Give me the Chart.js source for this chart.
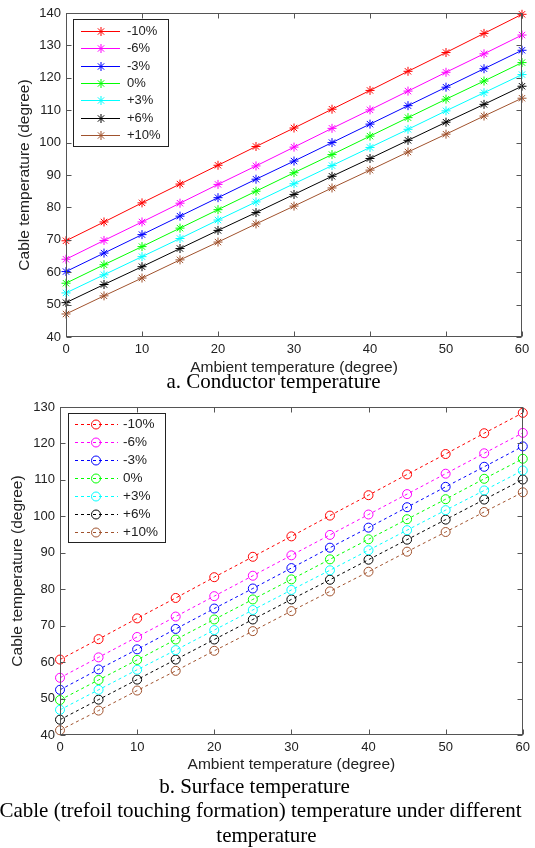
<!DOCTYPE html>
<html>
<head>
<meta charset="utf-8">
<title>Cable temperature</title>
<script src="https://cdn.jsdelivr.net/npm/chart.js@4.4.0/dist/chart.umd.min.js"></script>
<style>
  body { margin: 0; background: #fff; width: 535px; height: 848px; position: relative; overflow: hidden; }
  canvas { position: absolute; left: 0; }
  .cap {
    position: absolute; width: 535px; text-align: center; white-space: nowrap;
    font-family: "Liberation Serif", "Times New Roman", serif; font-size: 21px; line-height: 24px; color: #000;
  }
</style>
</head>
<body>
<canvas id="condChart" width="535" height="380" style="top:0"></canvas>
<div class="cap" style="top:369px; left:6px">a. Conductor temperature</div>
<canvas id="surfChart" width="535" height="381" style="top:394px"></canvas>
<div class="cap" style="top:774px; left:-13px">b. Surface temperature</div>
<div class="cap" style="top:798px; left:-7px">Cable (trefoil touching formation) temperature under different</div>
<div class="cap" style="top:823px; left:-1px">temperature</div>

<script>
// ambient temperature (x axis)
const ambient = [0, 5, 10, 15, 20, 25, 30, 35, 40, 45, 50, 55, 60];
const seriesNames = ['-10%', '-6%', '-3%', '0%', '+3%', '+6%', '+10%'];
const seriesColors = ['#ff0000', '#ff00ff', '#0000ff', '#00ff00', '#00ffff', '#000000', '#a0522d'];

// a. conductor temperature
const condM10 = [69.7, 75.5, 81.4, 87.2, 93.0, 98.8, 104.5, 110.3, 116.1, 122.0, 127.8, 133.7, 139.6];
const condM6  = [64.0, 69.8, 75.5, 81.3, 87.1, 92.8, 98.6, 104.4, 110.1, 115.9, 121.7, 127.4, 133.2];
const condM3  = [60.2, 65.9, 71.6, 77.3, 83.0, 88.7, 94.3, 100.0, 105.7, 111.4, 117.1, 122.8, 128.5];
const cond0   = [56.6, 62.3, 67.9, 73.6, 79.3, 85.0, 90.7, 96.3, 102.0, 107.7, 113.4, 119.0, 124.7];
const condP3  = [53.6, 59.2, 64.8, 70.4, 76.1, 81.7, 87.3, 92.9, 98.5, 104.1, 109.8, 115.4, 121.0];
const condP6  = [50.6, 56.2, 61.7, 67.3, 72.9, 78.4, 84.0, 89.6, 95.1, 100.7, 106.3, 111.8, 117.4];
const condP10 = [47.1, 52.7, 58.2, 63.8, 69.3, 74.9, 80.4, 86.0, 91.5, 97.1, 102.6, 108.2, 113.7];

// b. surface temperature
const surfM10 = [60.7, 66.3, 72.0, 77.6, 83.3, 88.9, 94.5, 100.2, 105.8, 111.5, 117.1, 122.8, 128.4];
const surfM6  = [55.7, 61.3, 66.9, 72.5, 78.1, 83.7, 89.3, 94.9, 100.5, 106.1, 111.7, 117.3, 122.9];
const surfM3  = [52.4, 58.0, 63.5, 69.1, 74.7, 80.2, 85.8, 91.4, 96.9, 102.5, 108.1, 113.6, 119.2];
const surf0   = [49.6, 55.1, 60.6, 66.2, 71.7, 77.2, 82.7, 88.2, 93.7, 99.2, 104.7, 110.3, 115.8];
const surfP3  = [46.9, 52.4, 57.9, 63.3, 68.8, 74.3, 79.8, 85.2, 90.7, 96.2, 101.7, 107.1, 112.6];
const surfP6  = [44.2, 49.7, 55.2, 60.7, 66.2, 71.7, 77.2, 82.6, 88.1, 93.6, 99.1, 104.6, 110.1];
const surfP10 = [41.3, 46.7, 52.2, 57.6, 63.1, 68.5, 74.0, 79.4, 84.8, 90.3, 95.7, 101.2, 106.6];

const condSeries = [condM10, condM6, condM3, cond0, condP3, condP6, condP10];
const surfSeries = [surfM10, surfM6, surfM3, surf0, surfP3, surfP6, surfP10];

const axisColor = '#555';
const textColor = '#222';
const sans = '"Liberation Sans", Arial, sans-serif';

// matlab style box: frame + inward ticks on all four sides, plus the legend box
const boxPlugin = {
  id: 'boxAxes',
  afterDraw(chart, args, opts) {
    const { ctx, chartArea: a, scales } = chart;
    const L = Math.round(a.left) + 0.5, R = Math.round(a.right) - 0.5;
    const T = Math.round(a.top) + 0.5, B = Math.round(a.bottom) - 0.5;
    ctx.save();
    ctx.strokeStyle = axisColor;
    ctx.lineWidth = 1;
    ctx.strokeRect(L, T, R - L, B - T);
    ctx.beginPath();
    scales.x.ticks.forEach(t => {
      const px = Math.round(scales.x.getPixelForValue(t.value)) + 0.5;
      ctx.moveTo(px, B); ctx.lineTo(px, B - 5);
      ctx.moveTo(px, T); ctx.lineTo(px, T + 5);
    });
    scales.y.ticks.forEach(t => {
      const py = Math.round(scales.y.getPixelForValue(t.value)) + 0.5;
      ctx.moveTo(L, py); ctx.lineTo(L + 5, py);
      ctx.moveTo(R, py); ctx.lineTo(R - 5, py);
    });
    ctx.stroke();

    // legend
    const [x0, y0, x1, y1] = opts.box;
    ctx.fillStyle = '#fff';
    ctx.fillRect(x0, y0, x1 - x0, y1 - y0);
    ctx.strokeStyle = '#222';
    ctx.strokeRect(x0 + 0.5, y0 + 0.5, x1 - x0, y1 - y0);
    ctx.font = opts.fontSize + 'px ' + sans;
    ctx.textBaseline = 'middle';
    ctx.textAlign = 'left';
    chart.data.datasets.forEach((ds, i) => {
      const y = Math.round(opts.rowY + i * opts.rowStep) + 0.5;
      ctx.strokeStyle = ds.borderColor;
      ctx.lineWidth = 1;
      ctx.setLineDash(ds.borderDash || []);
      ctx.beginPath();
      ctx.moveTo(opts.lineX[0], y); ctx.lineTo(opts.lineX[1], y);
      ctx.stroke();
      ctx.setLineDash([]);
      ctx.fillStyle = 'rgba(0,0,0,0)';
      Chart.helpers.drawPoint(ctx, {
        pointStyle: ds.pointStyle, radius: ds.pointRadius, borderWidth: 1, rotation: 0
      }, opts.markX, y);
      ctx.fillStyle = textColor;
      ctx.fillText(ds.label, opts.textX, y);
    });
    ctx.restore();
  }
};

function makeChart(id, series, yMax, dashed, geom) {
  const datasets = series.map((vals, i) => ({
    label: seriesNames[i],
    data: ambient.map((x, k) => ({ x: x, y: vals[k] })),
    borderColor: seriesColors[i],
    backgroundColor: seriesColors[i],
    borderWidth: 1,
    borderDash: dashed ? [3, 3] : [],
    pointStyle: dashed ? 'circle' : 'star',
    pointRadius: 4.5,
    pointBorderWidth: 1,
    pointBackgroundColor: dashed ? 'rgba(0,0,0,0)' : seriesColors[i],
    pointBorderColor: seriesColors[i],
    fill: false,
    tension: 0,
    clip: false
  }));

  return new Chart(document.getElementById(id), {
    type: 'line',
    data: { datasets: datasets },
    options: {
      responsive: false,
      animation: false,
      devicePixelRatio: 1,
      layout: { padding: geom.padding },
      plugins: {
        legend: { display: false },
        tooltip: { enabled: false },
        boxAxes: geom.legend
      },
      scales: {
        x: {
          type: 'linear', min: 0, max: 60,
          afterFit: s => { s.height = geom.xHeight; },
          grid: { display: false, drawTicks: false },
          border: { display: false },
          ticks: { stepSize: 10, padding: 5, color: textColor, font: { family: sans, size: 13 } },
          title: {
            display: true, text: 'Ambient temperature (degree)', color: textColor,
            font: { family: sans, size: 15.5 }, padding: { top: 0, bottom: geom.xTitlePad }
          }
        },
        y: {
          min: 40, max: yMax,
          afterFit: s => { s.width = geom.yWidth; },
          grid: { display: false, drawTicks: false },
          border: { display: false },
          ticks: { stepSize: 10, padding: 5, color: textColor, font: { family: sans, size: 13 } },
          title: {
            display: true, text: 'Cable temperature (degree)', color: textColor,
            font: { family: sans, size: 15.5 }, padding: { top: geom.yTitlePad, bottom: 0 }
          }
        }
      }
    },
    plugins: [boxPlugin]
  });
}

makeChart('condChart', condSeries, 140, false, {
  padding: { left: 0, right: 13, top: 13, bottom: 0 },
  xHeight: 43, yWidth: 66, xTitlePad: 3, yTitlePad: 15,
  legend: { box: [73, 19, 168, 146], rowY: 31, rowStep: 17.3, lineX: [81, 120], markX: 101, textX: 127, fontSize: 13 }
});

makeChart('surfChart', surfSeries, 130, true, {
  padding: { left: 0, right: 7, top: 13, bottom: 0 },
  xHeight: 40, yWidth: 60, xTitlePad: 1, yTitlePad: 8,
  legend: { box: [68, 19, 165, 148], rowY: 30.3, rowStep: 17.9, lineX: [75, 118], markX: 96, textX: 123, fontSize: 13.5 }
});
</script>
</body>
</html>
